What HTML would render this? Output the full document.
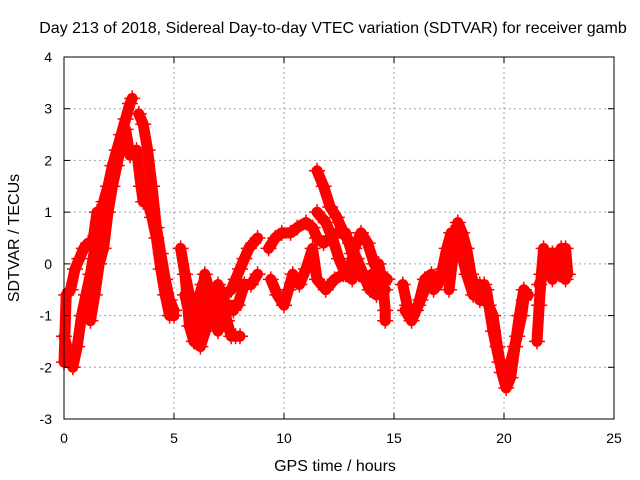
<!DOCTYPE html>
<html><head><meta charset="utf-8">
<style>
body{margin:0;background:#fff;}
svg{display:block;font-family:"Liberation Sans",sans-serif;}
</style></head>
<body>
<svg id="chart" width="640" height="480" viewBox="0 0 640 480">
<rect width="640" height="480" fill="#fff"/>
<text x="333" y="33" font-size="16" text-anchor="middle" fill="#000">Day 213 of 2018, Sidereal Day-to-day VTEC variation (SDTVAR) for receiver gamb</text>
<g id="grid"></g>
<g id="series"></g>
<rect x="64" y="57" width="550" height="362" fill="none" stroke="#000" stroke-width="1"/>
<g id="axes"></g>
<text x="335" y="471" font-size="16" text-anchor="middle">GPS time / hours</text>
<text transform="translate(19,238) rotate(-90)" font-size="16" text-anchor="middle">SDTVAR / TECUs</text>
</svg>
<script>
const xTicks=[0,5,10,15,20,25];
const yTicks=[-3,-2,-1,0,1,2,3,4];
const trackA_t=[0,0.2,0.4,0.6,0.8,1.0,1.2,1.4,1.6,1.8,2.0,2.2,2.4,2.6,2.8,3.0,3.1];
const trackA_v=[-1.4,-1.7,-2.0,-1.6,-1.0,-0.6,-0.2,0.3,0.8,1.2,1.5,1.9,2.2,2.5,2.8,3.1,3.2];
const trackB_t=[0,0.1,0.3,0.5,0.7,0.9,1.1,1.3,1.5];
const trackB_v=[-1.9,-0.6,-0.5,-0.1,0.1,0.3,0.4,0.4,1.0];
const trackC_t=[1.2,1.4,1.6,1.8,2.0,2.2,2.4,2.6,2.8,3.0];
const trackC_v=[-1.1,-0.6,0.0,0.3,1.0,1.5,1.9,2.3,2.6,2.1];
const trackD_t=[3.4,3.6,3.8,4.0,4.2,4.4,4.6,4.8,5.0];
const trackD_v=[2.9,2.7,2.2,1.5,0.7,0.2,-0.3,-0.7,-0.9];
const trackE_t=[3.3,3.5,3.6,3.8,4.0,4.2,4.4,4.6,4.8,5.0];
const trackE_v=[2.2,1.5,1.2,1.2,0.9,0.5,-0.1,-0.6,-1.0,-1.0];
const trackF_t=[5.3,5.5,5.7,5.9,6.0,6.1,6.3,6.5,6.7,6.9,7.0,7.2,7.4,7.6,7.8,8.0];
const trackF_v=[0.3,-0.2,-0.6,-1.0,-1.4,-0.7,-0.4,-0.7,-1.0,-1.2,-0.4,-0.6,-1.1,-1.4,-1.4,-1.4];
const trackG_t=[5.5,5.8,6.0,6.2,6.4,6.6,6.9,7.3,7.6,7.8,8.0,8.2,8.4,8.6,8.8];
const trackG_v=[-0.6,-1.2,-1.5,-0.9,-0.2,-0.5,-1.0,-0.6,-0.5,-0.3,-0.1,0.1,0.3,0.4,0.5];
const trackG2_t=[7.5,7.9,8.2,8.5,8.8];
const trackG2_v=[-0.8,-0.8,-0.4,-0.4,-0.2];
const trackP_t=[5.5,5.7,5.9,6.2,6.5,6.7,7.0,7.4,7.7];
const trackP_v=[-0.2,-1.2,-1.5,-1.6,-1.2,-0.7,-1.3,-0.9,-0.9];
const trackH_t=[9.3,9.6,9.9,10.3,10.6,11.0,11.3,11.5,11.8,12.1,12.4,12.8,13.1,13.4,13.7,14.0,14.3,14.6];
const trackH_v=[0.3,0.5,0.6,0.6,0.7,0.8,0.7,0.5,0.4,0.5,0.6,0.6,0.2,-0.2,-0.3,-0.2,-0.4,-0.5];
const trackI_t=[9.4,9.7,10.0,10.2,10.4,10.7,11.0,11.3,11.5,11.9,12.3,12.7,13.0,13.2,13.5,13.8,14.1,14.4,14.7];
const trackI_v=[-0.3,-0.6,-0.8,-0.5,-0.2,-0.4,-0.1,0.3,-0.3,-0.5,-0.3,-0.2,-0.1,0.3,0.6,0.4,0.0,-0.2,-0.3];
const trackJ_t=[11.5,11.8,12.1,12.4,12.7,13.0,13.3,13.6,13.9,14.2];
const trackJ_v=[1.8,1.5,1.1,0.9,0.6,0.4,0.1,-0.2,-0.5,-0.6];
const trackJ2_t=[11.5,11.9,12.2,12.5,12.8,13.1];
const trackJ2_v=[1.0,0.8,0.5,0.1,-0.2,-0.3];
const trackK_t=[14.3,14.5,14.6,14.6];
const trackK_v=[0.0,-0.4,-0.9,-1.1];
const trackL_t=[15.4,15.6,15.8,16.0,16.2,16.4,16.6,16.8,17.0,17.2,17.4,17.6];
const trackL_v=[-0.4,-0.8,-1.0,-0.9,-0.7,-0.5,-0.4,-0.5,-0.4,-0.1,0.3,0.6];
const trackL2_t=[15.5,15.8,16.1,16.4,16.7,17.0];
const trackL2_v=[-0.9,-1.1,-0.8,-0.3,-0.2,-0.3];
const trackM_t=[17.5,17.7,17.9,18.1,18.3,18.5,18.7,18.9,19.1,19.3,19.5,19.7,19.9,20.1,20.3,20.5,20.7,20.9,21.1];
const trackM_v=[-0.5,0.2,0.8,0.6,0.3,-0.2,-0.5,-0.7,-0.4,-0.8,-1.0,-1.6,-2.1,-2.4,-2.2,-1.6,-1.0,-0.5,-0.6];
const trackN_t=[17.8,18.0,18.3,18.6,18.9,19.2,19.5,19.8,20.0,20.3,20.6,20.8,20.9];
const trackN_v=[0.5,0.3,-0.2,-0.6,-0.4,-0.5,-1.3,-1.9,-2.0,-1.9,-1.4,-1.0,-0.7];
const trackO_t=[21.5,21.6,21.7,21.8,22.0,22.2,22.4,22.6,22.8,22.9];
const trackO_v=[-1.5,-0.8,-0.2,0.3,0.1,-0.3,0.1,0.3,0.3,-0.2];
const trackO2_t=[21.6,21.9,22.2,22.5,22.8];
const trackO2_v=[-0.4,-0.1,0.2,-0.2,-0.3];
const tracks=[[trackA_t,trackA_v],[trackB_t,trackB_v],[trackC_t,trackC_v],[trackD_t,trackD_v],[trackE_t,trackE_v],[trackF_t,trackF_v],[trackG_t,trackG_v],[trackG2_t,trackG2_v],[trackP_t,trackP_v],[trackH_t,trackH_v],[trackI_t,trackI_v],[trackJ_t,trackJ_v],[trackJ2_t,trackJ2_v],[trackK_t,trackK_v],[trackL_t,trackL_v],[trackL2_t,trackL2_v],[trackM_t,trackM_v],[trackN_t,trackN_v],[trackO_t,trackO_v],[trackO2_t,trackO2_v]];

const NS="http://www.w3.org/2000/svg";
const X0=64,X1=614,Y0=419,Y1=57;
function xs(t){return X0+(t-0)/(25-0)*(X1-X0);}
function ys(v){return Y0-(v-(-3))/(4-(-3))*(Y0-Y1);}
function mk(tag,attrs,parent){const e=document.createElementNS(NS,tag);for(const k in attrs)e.setAttribute(k,attrs[k]);parent.appendChild(e);return e;}
const grid=document.getElementById('grid'),axes=document.getElementById('axes'),ser=document.getElementById('series');
xTicks.forEach(t=>{
  const x=xs(t);
  if(t>0&&t<25){const l=mk('line',{x1:x,y1:Y1,x2:x,y2:Y0,stroke:'#a0a0a0','stroke-dasharray':'2,3'},grid);
  
  }
  mk('line',{x1:x,y1:Y0,x2:x,y2:Y0-6,stroke:'#000'},axes);
  mk('line',{x1:x,y1:Y1,x2:x,y2:Y1+6,stroke:'#000'},axes);
  const tx=mk('text',{x:x,y:443,'font-size':14,'text-anchor':'middle'},axes);tx.textContent=t;
  
  
});
yTicks.forEach(v=>{
  const y=ys(v);
  if(v>-3&&v<4){const l=mk('line',{x1:X0,y1:y,x2:X1,y2:y,stroke:'#a0a0a0','stroke-dasharray':'2,3'},grid);
  
  }
  mk('line',{x1:X0,y1:y,x2:X0+6,y2:y,stroke:'#000'},axes);
  mk('line',{x1:X1,y1:y,x2:X1-6,y2:y,stroke:'#000'},axes);
  const tx=mk('text',{x:52,y:y+5,'font-size':14,'text-anchor':'end'},axes);tx.textContent=v;
  
  
});
tracks.forEach(([T,V])=>{
  const pts=T.map((t,i)=>xs(t)+','+ys(V[i])).join(' ');
  const pl=mk('polyline',{points:pts,fill:'none',stroke:'#ff0000','stroke-width':11,'stroke-linejoin':'round','stroke-linecap':'round'},ser);
  
  
  T.forEach((t,i)=>{
    const x=xs(t),y=ys(V[i]);
    const p=mk('path',{d:`M${x-8},${y}H${x+8}M${x},${y-8}V${y+8}`,stroke:'#ff0000','stroke-width':1.5},ser);
    
    
  });
});
</script>
</body></html>
